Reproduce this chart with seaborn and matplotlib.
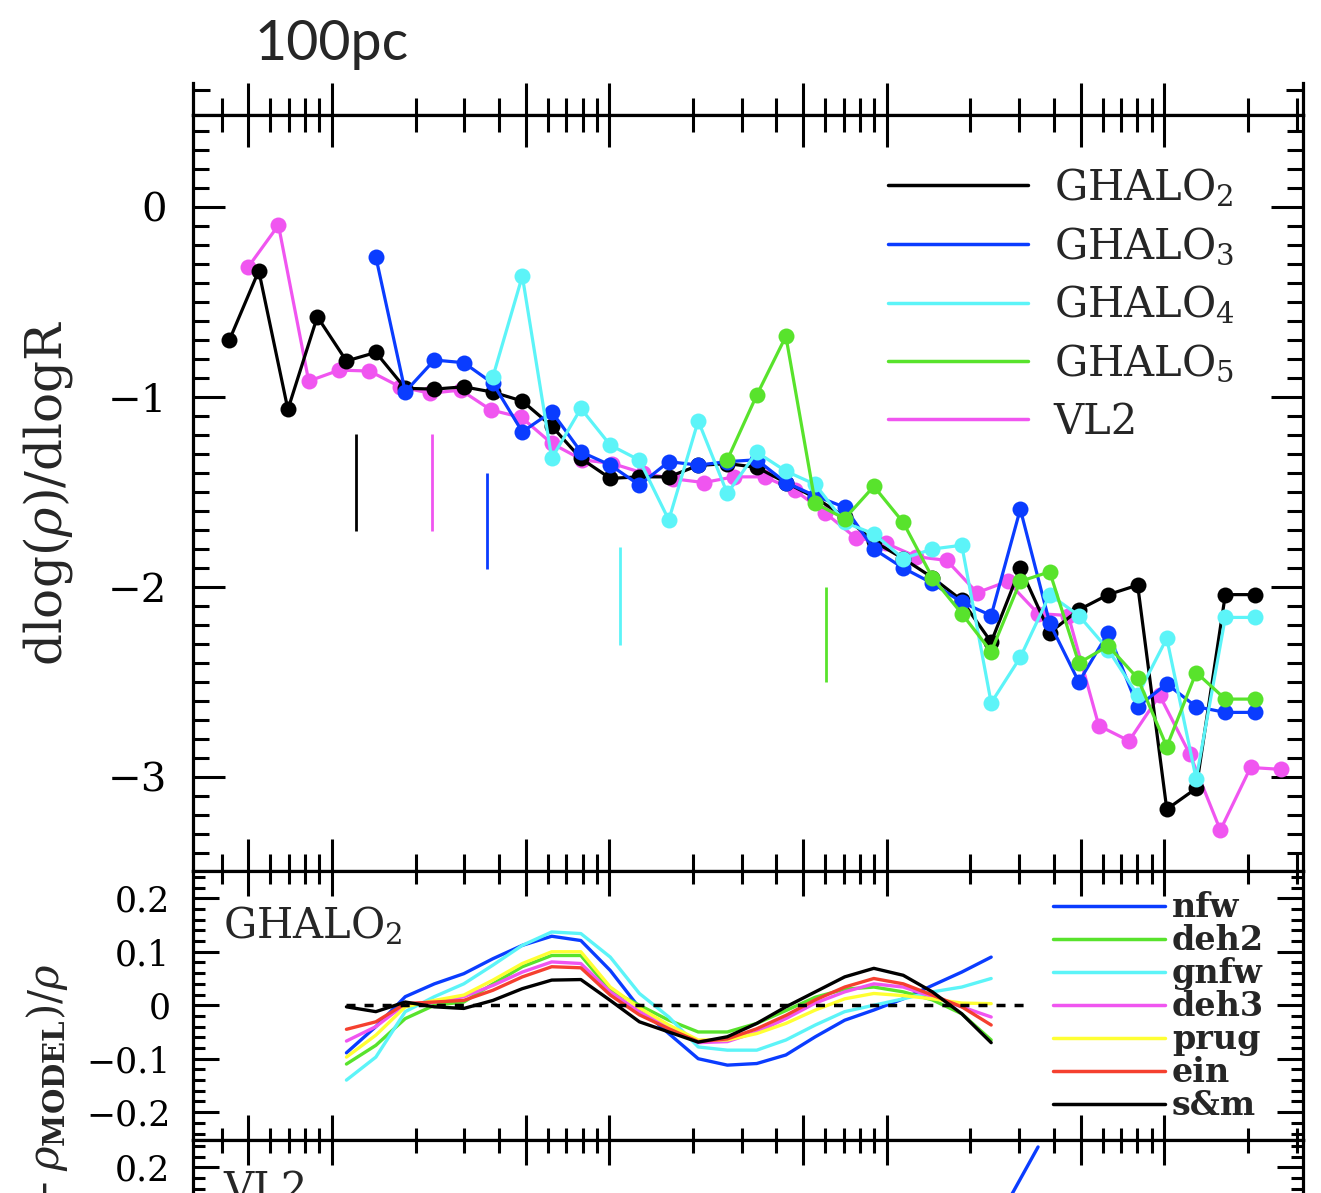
import numpy as np
import pandas as pd
import matplotlib
matplotlib.use("Agg")
import matplotlib.pyplot as plt
import matplotlib.transforms as mtrans
from matplotlib.lines import Line2D
from matplotlib.ticker import FixedLocator, MultipleLocator, NullFormatter
import seaborn as sns

nan = np.nan

# ---------------------------------------------------------------- data
# log10(R / kpc) of the radial bins
logr_ghalo = [-1.370, -1.264, -1.159, -1.053, -0.948, -0.842, -0.736, -0.631,
              -0.525, -0.420, -0.314, -0.208, -0.103, 0.003, 0.108, 0.214,
              0.320, 0.425, 0.531, 0.636, 0.742, 0.848, 0.953, 1.059,
              1.164, 1.270, 1.376, 1.481, 1.587, 1.692, 1.798, 1.904,
              2.009, 2.115, 2.220, 2.326]
logr_vl2 = [-1.303, -1.193, -1.084, -0.974, -0.865, -0.755, -0.646, -0.536,
            -0.427, -0.317, -0.208, -0.098, 0.011, 0.121, 0.230, 0.340,
            0.449, 0.559, 0.668, 0.778, 0.887, 0.997, 1.106, 1.216,
            1.325, 1.435, 1.545, 1.654, 1.764, 1.873, 1.983, 2.092,
            2.202, 2.311, 2.421]

# logarithmic slope dlog(rho)/dlogR
slope_ghalo2 = [-0.70, -0.335, -1.065, -0.577, -0.81, -0.765, -0.954, -0.958,
                -0.946, -0.974, -1.021, -1.153, -1.323, -1.428, -1.42, -1.42,
                -1.36, -1.35, -1.37, -1.45, -1.53, -1.63, -1.76, -1.85,
                -1.95, -2.07, -2.29, -1.90, -2.24, -2.12, -2.04, -1.99,
                -3.17, -3.06, -2.04, -2.04]
slope_ghalo3 = [nan, nan, nan, nan, nan,
                -0.262, -0.972, -0.805, -0.819, -0.928, -1.183, -1.077, -1.288,
                -1.358, -1.463, -1.34, -1.358, -1.34, -1.33, -1.45, -1.52,
                -1.58, -1.80, -1.90, -1.98, -2.08, -2.15, -1.59, -2.19,
                -2.50, -2.24, -2.63, -2.51, -2.63, -2.66, -2.66]
slope_ghalo4 = [nan, nan, nan, nan, nan, nan, nan, nan, nan,
                -0.893, -0.363, -1.323, -1.06, -1.253, -1.332, -1.647, -1.125,
                -1.507, -1.29, -1.39, -1.46, -1.66, -1.72, -1.85, -1.80,
                -1.78, -2.61, -2.37, -2.04, -2.15, -2.33, -2.57, -2.27,
                -3.01, -2.16, -2.16]
slope_ghalo5 = [nan] * 17 + [-1.33, -0.99, -0.68, -1.56, -1.64, -1.47, -1.66,
                             -1.95, -2.14, -2.34, -1.97, -1.92, -2.40, -2.31,
                             -2.48, -2.84, -2.45, -2.59, -2.59]
slope_vl2 = [-0.317, -0.095, -0.916, -0.858, -0.863, -0.946, -0.98, -0.963,
             -1.068, -1.107, -1.244, -1.33, -1.35, -1.40, -1.43, -1.45,
             -1.42, -1.42, -1.49, -1.61, -1.74, -1.77, -1.84, -1.86,
             -2.03, -1.97, -2.14, -2.15, -2.73, -2.81, -2.57, -2.88,
             -3.28, -2.95, -2.96]

series_labels = ["GHALO$_2$", "GHALO$_3$", "GHALO$_4$", "GHALO$_5$", "VL2"]

# convergence radii markers (vertical ticks)
conv_logr = [-0.914, -0.638, -0.443, 0.038, 0.780]
conv_top = [-1.195, -1.195, -1.398, -1.788, -1.998]
conv_bottom = [-1.703, -1.703, -1.907, -2.305, -2.498]

# residual panel (GHALO2): (rho - rho_model)/rho on bins 4..26
logr_res = logr_ghalo[4:27]
res_nfw = [-0.089, -0.040, 0.016, 0.040, 0.059, 0.087, 0.112, 0.129, 0.121,
           0.065, -0.005, -0.053, -0.100, -0.112, -0.109, -0.093, -0.059,
           -0.028, -0.009, 0.012, 0.037, 0.062, 0.090]
res_deh2 = [-0.110, -0.075, -0.025, 0.000, 0.006, 0.040, 0.072, 0.093, 0.093,
            0.028, 0.000, -0.028, -0.050, -0.050, -0.034, -0.010, 0.015,
            0.030, 0.034, 0.025, 0.010, -0.016, -0.065]
res_gnfw = [-0.140, -0.097, -0.012, 0.016, 0.040, 0.075, 0.112, 0.137, 0.134,
            0.090, 0.022, -0.022, -0.078, -0.084, -0.084, -0.065, -0.037,
            -0.012, 0.000, 0.012, 0.025, 0.034, 0.050]
res_deh3 = [-0.067, -0.040, 0.002, 0.006, 0.016, 0.037, 0.062, 0.081, 0.078,
            0.025, -0.012, -0.040, -0.070, -0.068, -0.050, -0.025, 0.004,
            0.025, 0.040, 0.034, 0.016, -0.003, -0.022]
res_prug = [-0.097, -0.056, -0.003, 0.009, 0.019, 0.047, 0.078, 0.100, 0.100,
            0.034, -0.005, -0.037, -0.065, -0.065, -0.053, -0.034, -0.009,
            0.012, 0.022, 0.018, 0.012, 0.004, 0.003]
res_ein = [-0.045, -0.031, 0.003, 0.006, 0.009, 0.028, 0.053, 0.072, 0.070,
           0.019, -0.018, -0.044, -0.068, -0.063, -0.044, -0.019, 0.010,
           0.034, 0.050, 0.040, 0.019, -0.003, -0.037]
res_sm = [-0.003, -0.012, 0.006, -0.003, -0.006, 0.009, 0.031, 0.047, 0.048,
          0.009, -0.031, -0.050, -0.069, -0.059, -0.034, -0.003, 0.025,
          0.053, 0.069, 0.056, 0.025, -0.016, -0.070]
model_names = ["nfw", "deh2", "gnfw", "deh3", "prug", "ein", "s&m"]

# VL2 residual panel (only the visible part)
logr_res_vl2 = [1.435, 1.545]
res_vl2_nfw = [0.135, 0.238]

zero_line_r = [0.112, 31.6]

x_major_ticks = [0.05, 0.1, 0.5, 1, 5, 10, 50, 100]
x_minor_ticks = [0.04, 0.06, 0.07, 0.08, 0.09, 0.2, 0.3, 0.4, 0.6, 0.7, 0.8,
                 0.9, 2, 3, 4, 6, 7, 8, 9, 20, 30, 40, 60, 70, 80, 90, 200, 300]
top_yticks = [-3, -2, -1, 0]
top_yticklabels = ["\u22123", "\u22122", "\u22121", "0"]
res_yticks = [-0.2, -0.1, 0.0, 0.1, 0.2]
res_yticklabels = ["\u22120.2", "\u22120.1", "0", "0.1", "0.2"]

# ---------------------------------------------------------------- style
c_black = "#000000"
c_blue = "#0a3cff"
c_cyan = "#5cf4f8"
c_green = "#58e32c"
c_magenta = "#f055f0"
c_yellow = "#ffff33"
c_red = "#f5402f"

sns.set_style("ticks")
plt.rcParams.update({
    "font.family": ["DejaVu Serif"],
    "mathtext.fontset": "dejavuserif",
    "axes.edgecolor": "black",
    "axes.linewidth": 2.3,
    "xtick.color": "black",
    "ytick.color": "black",
})

W, H = 1321, 1193
fig = plt.figure(figsize=(W / 100, H / 100), dpi=100)
XL, XR = 193.3, 1303.0


def rect(top_px, bottom_px):
    return [XL / W, (H - bottom_px) / H, (XR - XL) / W, (bottom_px - top_px) / H]


ax_stub = fig.add_axes(rect(83, 115))
ax_top = fig.add_axes(rect(115, 871))
ax_mid = fig.add_axes(rect(871, 1140))
ax_bot = fig.add_axes(rect(1140, 1409))


def style(ax, xmaj, xmin, ymaj, ymin, top=True):
    ax.set_xscale("log")
    ax.set_xlim(10 ** -1.5, 10 ** 2.5)
    ax.xaxis.set_major_locator(FixedLocator(x_major_ticks))
    ax.xaxis.set_minor_locator(FixedLocator(x_minor_ticks))
    ax.xaxis.set_major_formatter(NullFormatter())
    ax.xaxis.set_minor_formatter(NullFormatter())
    ax.tick_params(axis="x", which="major", direction="in", length=xmaj,
                   width=2.2, top=top, bottom=True)
    ax.tick_params(axis="x", which="minor", direction="in", length=xmin,
                   width=2.2, top=top, bottom=True)
    ax.tick_params(axis="y", which="major", direction="in", length=ymaj,
                   width=2.2, left=True, right=True)
    ax.tick_params(axis="y", which="minor", direction="in", length=ymin,
                   width=2.2, left=True, right=True)
    for s in ax.spines.values():
        s.set_linewidth(2.3)
        s.set_color("black")
    ax.set_xlabel("")


# ---- stub of the panel above (cropped)
style(ax_stub, 23, 12, 23, 12, top=False)
ax_stub.set_ylim(0, 32)
ax_stub.set_yticks([])
ax_stub.yaxis.set_minor_locator(FixedLocator([25]))
ax_stub.spines["top"].set_visible(False)
ax_stub.patch.set_alpha(0)

# ---- top panel: logarithmic slope
style(ax_top, 23, 12, 23, 11.5)
series = [
    (logr_vl2, slope_vl2, c_magenta),
    (logr_ghalo, slope_ghalo2, c_black),
    (logr_ghalo, slope_ghalo3, c_blue),
    (logr_ghalo, slope_ghalo4, c_cyan),
    (logr_ghalo, slope_ghalo5, c_green),
]
for lr, sl, col in series:
    df = pd.DataFrame({"r": np.power(10.0, lr), "slope": sl}).dropna()
    sns.lineplot(data=df, x="r", y="slope", ax=ax_top, color=col, lw=2.3,
                 marker="o", markersize=11.5, markeredgewidth=0,
                 estimator=None, sort=False, legend=False)

ax_top.vlines(np.power(10.0, conv_logr), conv_bottom, conv_top,
              colors=[c_black, c_magenta, c_blue, c_cyan, c_green], lw=2.0)

ax_top.set_ylim(-3.495, 0.485)
ax_top.set_yticks(top_yticks)
ax_top.set_yticklabels(top_yticklabels)
ax_top.yaxis.set_minor_locator(MultipleLocator(0.1))
ax_top.tick_params(axis="y", labelsize=29, pad=19)
ax_top.set_xlabel("")
ax_top.set_ylabel(r"dlog($\rho$)/dlogR", fontsize=36)
ax_top.yaxis.set_label_coords(-0.1066, 0.5)

top_handles = [Line2D([0], [0], color=c, lw=2.5)
               for c in [c_black, c_blue, c_cyan, c_green, c_magenta]]
ax_top.legend(top_handles, series_labels, loc="upper left",
              bbox_to_anchor=(0.626, 0.932), frameon=False, fontsize=30,
              handlelength=3.36, handletextpad=0.62, labelspacing=0.39,
              borderpad=0, borderaxespad=0)

btrans = mtrans.blended_transform_factory(ax_top.transData, ax_top.transAxes)
ax_top.text(0.1, 1.0728, "100pc", transform=btrans, ha="center",
            va="baseline", fontsize=40, family=["Lato", "DejaVu Sans"])

# ---- middle panel: residuals GHALO2
style(ax_mid, 18, 9, 19, 8.5)
res_colors = [c_blue, c_green, c_cyan, c_magenta, c_yellow, c_red, c_black]
res_lists = [res_nfw, res_deh2, res_gnfw, res_deh3, res_prug, res_ein, res_sm]
frames = []
for name, vals in zip(model_names, res_lists):
    frames.append(pd.DataFrame({"r": np.power(10.0, logr_res), "res": vals,
                                "model": name}))
df_res = pd.concat(frames, ignore_index=True)
sns.lineplot(data=df_res, x="r", y="res", hue="model", hue_order=model_names,
             palette=dict(zip(model_names, res_colors)), lw=2.4,
             estimator=None, sort=False, legend=False, ax=ax_mid)
ax_mid.hlines(0, zero_line_r[0], zero_line_r[1], colors="black", lw=2.5,
              linestyles=(0, (2.6, 2.6)), zorder=5)
ax_mid.set_ylim(-0.252, 0.251)
ax_mid.set_yticks(res_yticks)
ax_mid.set_yticklabels(res_yticklabels)
ax_mid.yaxis.set_minor_locator(MultipleLocator(0.02))
ax_mid.tick_params(axis="y", labelsize=25, pad=16.5)
ax_mid.set_xlabel("")
ax_mid.set_ylabel("")
ax_mid.text(0.0268, 0.875, "GHALO$_2$", transform=ax_mid.transAxes,
            ha="left", va="top", fontsize=30)
mid_handles = [Line2D([0], [0], color=c, lw=2.5) for c in res_colors]
ax_mid.legend(mid_handles, model_names, loc="upper left",
              bbox_to_anchor=(0.7747, 0.924), frameon=False,
              prop={"size": 24, "weight": "bold"},
              handlelength=3.36, handletextpad=0.21, labelspacing=0.0,
              borderpad=0, borderaxespad=0)

# ---- bottom panel: residuals VL2 (cropped)
style(ax_bot, 18, 9, 19, 8.5)
df_vl2 = pd.DataFrame({"r": np.power(10.0, logr_res_vl2), "res": res_vl2_nfw})
sns.lineplot(data=df_vl2, x="r", y="res", ax=ax_bot, color=c_blue, lw=2.4,
             estimator=None, sort=False, legend=False)
ax_bot.set_ylim(-0.252, 0.251)
ax_bot.set_yticks(res_yticks)
ax_bot.set_yticklabels(res_yticklabels)
ax_bot.yaxis.set_minor_locator(MultipleLocator(0.02))
ax_bot.tick_params(axis="y", labelsize=25, pad=16.5)
ax_bot.set_xlabel("")
ax_bot.set_ylabel("")
ax_bot.text(0.0268, 0.893, "VL2", transform=ax_bot.transAxes,
            ha="left", va="top", fontsize=30)

fig.text(47 / W, (H - 963) / H, r"$(\rho-\rho_{\mathbf{MODEL}})/\rho$",
         rotation=90, ha="center", va="top", fontsize=30)

fig.savefig("out.png", dpi=100)
